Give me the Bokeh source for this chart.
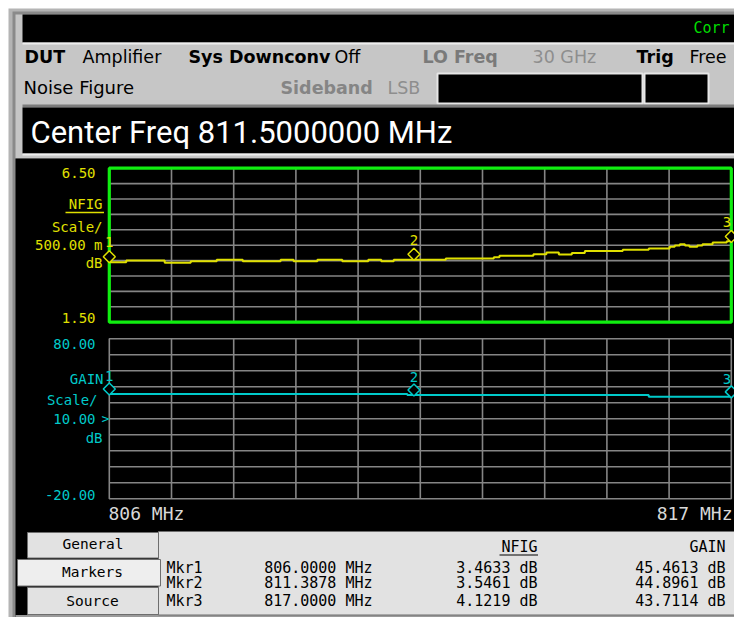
import numpy as np
from bokeh.plotting import figure
from bokeh.models import Range1d
from bokeh.core.properties import value
from bokeh.embed import file_html
from bokeh.resources import INLINE

# ---------------- data ----------------
freq_start_mhz = 806.0
freq_stop_mhz = 817.0
freq_labels = ["806 MHz", "817 MHz"]
center_freq_text = "Center Freq 811.5000000 MHz"

# noise-figure trace (step trace, value holds from each frequency to the next)
nfig_freq = [806.00, 806.30, 806.98, 807.44, 807.90, 808.36, 809.03, 809.26,
             809.68, 810.12, 810.58, 810.81, 811.03, 811.95, 812.80, 812.90,
             813.50, 813.73, 813.95, 814.18, 814.41, 815.08, 815.54, 815.91,
             816.00, 816.09, 816.18, 816.26, 816.40, 816.49, 816.67, 816.92,
             817.00]
nfig_db = [3.45, 3.50, 3.43, 3.48, 3.53, 3.48, 3.53, 3.48,
           3.53, 3.48, 3.53, 3.48, 3.53, 3.57, 3.61, 3.66,
           3.71, 3.76, 3.70, 3.75, 3.81, 3.85, 3.89, 3.95,
           3.99, 4.03, 3.99, 3.95, 3.99, 4.03, 4.09, 4.13,
           4.13]

# gain trace
gain_freq = [806.00, 811.27, 815.54, 817.00]
gain_db = [45.46, 44.90, 43.71, 43.71]

# markers
marker_names = ["Mkr1", "Mkr2", "Mkr3"]
marker_ids = ["1", "2", "3"]
marker_freq = [806.0, 811.3878, 817.0]
marker_nfig = [3.4633, 3.5461, 4.1219]
marker_gain = [45.4613, 44.8961, 43.7114]

# scales
nfig_top, nfig_bottom = 6.50, 1.50
nfig_scale_text = "500.00 m"
gain_top, gain_bottom = 80.00, -20.00
gain_ref_level = 30.0
gain_scale_text = "10.00"
n_div = 10

# ---------------- layout (pixel coordinates of the screen) ----------------
W, H = 734, 617
PX_L, PX_R = 108.8, 730.8           # plot frames, left/right
NF_T, NF_B = 167.7, 321.7           # noise figure frame, top/bottom
GN_T, GN_B = 338.3, 498.3           # gain frame, top/bottom

MONO = "DejaVu Sans Mono"
SANS = "DejaVu Sans"
YEL = "#e0e000"
CYAN = "#00caca"
GREEN = "#10ee10"
GRID = "#858585"


def lin(p, p0, v0, p1, v1):
    return v0 + (p - p0) * (v1 - v0) / (p1 - p0)


p = figure(width=W, height=H, output_backend="svg", toolbar_location=None,
           x_range=Range1d(0, W), y_range=Range1d(H, 0),
           x_axis_location=None, y_axis_location=None, min_border=0,
           background_fill_color="white", border_fill_color="white",
           outline_line_color=None)
p.grid.visible = False

p.extra_x_ranges = {"freq": Range1d(lin(0, PX_L, freq_start_mhz, PX_R, freq_stop_mhz),
                                    lin(W, PX_L, freq_start_mhz, PX_R, freq_stop_mhz))}
p.extra_y_ranges = {
    "nf": Range1d(lin(H, NF_T, nfig_top, NF_B, nfig_bottom),
                  lin(0, NF_T, nfig_top, NF_B, nfig_bottom)),
    "gain": Range1d(lin(H, GN_T, gain_top, GN_B, gain_bottom),
                    lin(0, GN_T, gain_top, GN_B, gain_bottom)),
}
NF_PER_PX = (nfig_top - nfig_bottom) / (NF_B - NF_T)
GN_PER_PX = (gain_top - gain_bottom) / (GN_B - GN_T)


def q(l, t, r, b, color, line=None, lw=1):
    p.quad(left=[l], right=[r], top=[t], bottom=[b], fill_color=color,
           line_color=line, line_width=lw)


def txt(x, y, s, size, color="black", font=MONO, align="left", style="normal"):
    # y is the vertical centre of the capitals
    p.text(x=[x], y=[y], text=[s], text_font=value(font), text_font_size=f"{size}px",
           text_color=color, text_align=align, text_baseline="middle",
           text_font_style=style)


# ---------------- instrument chrome ----------------
q(8, 8, W, H, "#b4b4b4")
q(12, 11, W, H, "#8a8a8a")
q(15, 14, W, 158, "#c6c6c6")
q(22, 14, W, 42, "black")
q(22, 42, W, 44, "#eeeeee")
q(437, 73, 642, 103, "black", "#e6e6e6", 2)
q(644, 73, 708, 103, "black", "#e6e6e6", 2)
q(22, 104, W, 107, "#7c7c7c")
q(22, 107, W, 153, "black")
q(22, 153, W, 155, "#eeeeee")
q(15, 158, W, H, "black")

txt(693, 27.5, "Corr", 15, "#00dd00")

txt(24, 56.7, "DUT", 17.5, font=SANS, style="bold")
txt(82, 56.7, "Amplifier", 17.5, font=SANS)
txt(188, 56.7, "Sys Downconv", 17.5, font=SANS, style="bold")
txt(334, 56.7, "Off", 17.5, font=SANS)
txt(422, 56.7, "LO Freq", 17.5, "#7a7a7a", font=SANS, style="bold")
txt(532, 56.7, "30 GHz", 17.5, "#8e8e8e", font=SANS)
txt(636, 56.7, "Trig", 17.5, font=SANS, style="bold")
txt(689, 56.7, "Free", 17.5, font=SANS)

txt(23, 87.2, "Noise Figure", 18, font=SANS)
txt(280, 87.2, "Sideband", 17.5, "#858585", font=SANS, style="bold")
txt(387, 87.2, "LSB", 17.5, "#8e8e8e", font=SANS)

txt(30, 132, center_freq_text, 31, "white", font="Roboto")


# ---------------- plot panels ----------------
def panel(yname, ytop, ybot, frame_color, frame_width):
    vx = [freq_start_mhz + k * (freq_stop_mhz - freq_start_mhz) / n_div for k in range(1, n_div)]
    hy = [ybot + k * (ytop - ybot) / n_div for k in range(1, n_div)]
    p.segment(x0=vx, y0=[ybot] * len(vx), x1=vx, y1=[ytop] * len(vx),
              x_range_name="freq", y_range_name=yname, line_color=GRID, line_width=1.6)
    p.segment(x0=[freq_start_mhz] * len(hy), y0=hy, x1=[freq_stop_mhz] * len(hy), y1=hy,
              x_range_name="freq", y_range_name=yname, line_color=GRID, line_width=1.6)
    p.quad(left=[freq_start_mhz], right=[freq_stop_mhz], top=[ytop], bottom=[ybot],
           x_range_name="freq", y_range_name=yname, fill_color=None,
           line_color=frame_color, line_width=frame_width)


panel("nf", nfig_top, nfig_bottom, GREEN, 3.2)
panel("gain", gain_top, gain_bottom, GRID, 1.6)

p.step(x=nfig_freq, y=nfig_db, mode="after", x_range_name="freq", y_range_name="nf",
       line_color=YEL, line_width=2)
p.step(x=gain_freq, y=gain_db, mode="after", x_range_name="freq", y_range_name="gain",
       line_color=CYAN, line_width=2)

for vals, yname, per_px, lab_px, col in [(marker_nfig, "nf", NF_PER_PX, 19.5, YEL),
                                         (marker_gain, "gain", GN_PER_PX, 18.0, CYAN)]:
    p.scatter(x=marker_freq, y=[v + 5 * per_px for v in vals], marker="square",
              angle=np.pi / 4, size=8.5, fill_color="black", line_color=col,
              line_width=1.5, x_range_name="freq", y_range_name=yname)
    for f, v, mid in zip(marker_freq, vals, marker_ids):
        p.text(x=[f], y=[v + lab_px * per_px], text=[mid],
               x_range_name="freq", y_range_name=yname,
               text_align="right" if f >= freq_stop_mhz else "center",
               text_baseline="middle", text_font=value(MONO), text_font_size="14px",
               text_color=col)

# noise figure scale labels
txt(95, 172, f"{nfig_top:.2f}", 14, YEL, align="right")
txt(102, 203.8, "NFIG", 14, YEL, align="right")
p.segment(x0=[65], y0=[212], x1=[103.5], y1=[212], line_color=YEL, line_width=1.5)
txt(102, 226.3, "Scale/", 14, YEL, align="right")
txt(102, 244.8, nfig_scale_text, 14, YEL, align="right")
txt(102, 262.5, "dB", 14, YEL, align="right")
txt(95, 317.2, f"{nfig_bottom:.2f}", 14, YEL, align="right")

# gain scale labels
txt(95, 343.7, f"{gain_top:.2f}", 14, CYAN, align="right")
txt(103, 378.3, "GAIN", 14, CYAN, align="right")
txt(97, 399.5, "Scale/", 14, CYAN, align="right")
txt(95, 418.5, gain_scale_text, 14, CYAN, align="right")
p.text(x=[101], y=[gain_ref_level], text=[">"], y_range_name="gain",
       text_align="left", text_baseline="middle", text_font=value(MONO),
       text_font_size="13px", text_color=CYAN)
txt(102, 437.8, "dB", 14, CYAN, align="right")
txt(95, 494.5, f"{gain_bottom:.2f}", 14, CYAN, align="right")

txt(108, 512.5, freq_labels[0], 18, "#d8d8d8")
txt(732, 512.5, freq_labels[1], 18, "#d8d8d8", align="right")

# ---------------- marker table ----------------
q(15, 614.5, W, H, "#9a9a9a")
q(158, 531, W + 2, 614.5, "#e2e2e2", "#6e6e6e")
q(27, 532, 158, 557.5, "#e2e2e2", "#6e6e6e")
q(17, 559, 160, 585.5, "#eeeeee", "#6e6e6e")
q(27, 587, 158, 614, "#e2e2e2", "#6e6e6e")
txt(92.5, 543, "General", 14.5, align="center")
txt(92, 571.2, "Markers", 14.5, align="center")
txt(92, 600.5, "Source", 14.5, align="center")

txt(537, 546.2, "NFIG", 15, align="right")
p.segment(x0=[499], y0=[554.5], x1=[537.5], y1=[554.5], line_color="black", line_width=1)
txt(725, 546.2, "GAIN", 15, align="right")
row_y = [567.2, 582.8, 600.5]
for ry, name, f, nf, g in zip(row_y, marker_names, marker_freq, marker_nfig, marker_gain):
    txt(166, ry, name, 15)
    txt(372, ry, f"{f:.4f} MHz", 15, align="right")
    txt(537, ry, f"{nf:.4f} dB", 15, align="right")
    txt(725, ry, f"{g:.4f} dB", 15, align="right")

open("out.html", "w").write(file_html(p, INLINE))
